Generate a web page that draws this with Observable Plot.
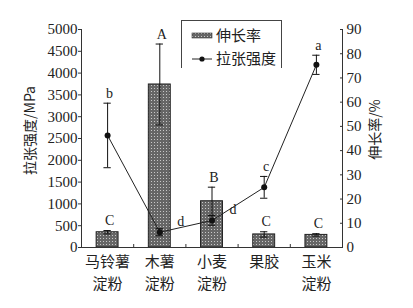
<!DOCTYPE html>
<html><head><meta charset="utf-8">
<script src="https://cdn.jsdelivr.net/npm/d3@7"></script>
<script src="https://cdn.jsdelivr.net/npm/@observablehq/plot@0.6"></script>
<style>
body{margin:0;background:#fff}
#wrap{position:relative;width:413px;height:308px}
.legend{position:absolute;left:181px;top:20px;width:101px;height:48px;border:1px solid #444;border-bottom:none;box-sizing:border-box;font-family:"Noto Sans CJK SC",sans-serif;font-size:15px;color:#222;background:transparent}
.legend .t{position:absolute;left:34px;line-height:18px;white-space:nowrap}
.legend svg{position:absolute;left:9px}
</style></head>
<body><div id="wrap"></div>
<script>
// ---- data ----
const categories = ["马铃薯\n淀粉", "木薯\n淀粉", "小麦\n淀粉", "果胶", "玉米\n淀粉"];
const elongation = [6.3, 67.3, 19.1, 5.4, 5.2];          // 伸长率 / %
const elongationErr = [0.7, 16.7, 5.8, 1.1, 0.5];
const elongationLetters = ["C", "A", "B", "C", "C"];
const strength = [2570, 350, 620, 1380, 4190];          // 拉张强度 / MPa
const strengthErr = [740, 80, 110, 250, 220];
const strengthLetters = ["b", "d", "d", "c", "a"];
const leftTicks = d3.range(0, 5001, 500);
const rightTicks = d3.range(0, 91, 10);
const leftMax = 5000, rightMax = 90;
const K = leftMax / rightMax;

const rows = categories.map((c, i) => {
  const bar = elongation[i] * K, be = elongationErr[i] * K;
  const s = strength[i], se = strengthErr[i];
  return {i, bar, barLo: bar - be, barHi: bar + be, bl: elongationLetters[i],
    s, sLo: s - se, sHi: s + se, sl: strengthLetters[i], right: (s + se) < (bar + be)};
});

const serif = "'Liberation Serif','Times New Roman',serif";
const cjk = "'Noto Sans CJK SC',sans-serif";
const capW = 0.07, barHalf = 0.21;

const chart = Plot.plot({
  width: 413, height: 308,
  marginLeft: 81, marginRight: 71, marginTop: 29, marginBottom: 61,
  style: {fontFamily: serif, fontSize: "15px", color: "#222", background: "white", overflow: "visible"},
  x: {type: "linear", domain: [-0.5, categories.length - 0.5], axis: null},
  y: {domain: [0, leftMax], axis: null},
  marks: [
    Plot.rectY(rows, {x1: d => d.i - barHalf, x2: d => d.i + barHalf, y: "bar", fill: "url(#dots)", stroke: "#222", strokeWidth: 1}),
    Plot.ruleX(rows, {x: "i", y1: "barLo", y2: "barHi", stroke: "#111"}),
    Plot.ruleY(rows, {x1: d => d.i - capW, x2: d => d.i + capW, y: "barHi", stroke: "#111"}),
    Plot.ruleY(rows, {x1: d => d.i - capW, x2: d => d.i + capW, y: "barLo", stroke: "#111"}),
    Plot.line(rows, {x: "i", y: "s", stroke: "#222", strokeWidth: 1}),
    Plot.ruleX(rows, {x: "i", y1: "sLo", y2: "sHi", stroke: "#111"}),
    Plot.ruleY(rows, {x1: d => d.i - capW, x2: d => d.i + capW, y: "sHi", stroke: "#111"}),
    Plot.ruleY(rows, {x1: d => d.i - capW, x2: d => d.i + capW, y: "sLo", stroke: "#111"}),
    Plot.dot(rows, {x: "i", y: "s", r: 3, fill: "#111"}),
    Plot.text(rows, {x: "i", y: "barHi", text: "bl", dy: -10, dx: 2, fontSize: 14, fill: "#222"}),
    Plot.text(rows.filter(d => !d.right), {x: "i", y: "sHi", text: "sl", dy: -10, dx: 2, fontSize: 14, fill: "#222"}),
    Plot.text(rows.filter(d => d.right), {x: "i", y: "s", text: "sl", dx: 21, dy: -11, fontSize: 14, fill: "#222"}),
    // axis lines
    Plot.ruleY([0], {stroke: "#333"}),
    Plot.ruleX([-0.5, categories.length - 0.5], {y1: 0, y2: leftMax, stroke: "#333"}),
    Plot.axisY({anchor: "left", ticks: leftTicks, tickFormat: d3.format("d"), tickSize: 3, tickPadding: 1, label: null, stroke: "#333"}),
    Plot.axisY({anchor: "right", ticks: rightTicks.map(v => v * K), tickFormat: v => String(Math.round(v / K)), tickSize: -3, tickPadding: 7, label: null, stroke: "#333"}),
    Plot.axisX({ticks: d3.range(categories.length - 1).map(i => i + 0.5), tickSize: -3, tickFormat: () => "", label: null, stroke: "#333"}),
    Plot.axisX({ticks: d3.range(categories.length), tickSize: 0, tickPadding: 4, tickFormat: i => categories[i], fontFamily: cjk, fontSize: 15, lineHeight: 1.45, label: null}),
    Plot.text(["拉张强度/MPa"], {frameAnchor: "left", textAnchor: "middle", rotate: -90, dx: -51, dy: -8, fontFamily: cjk, fontSize: 14, fill: "#222"}),
    Plot.text(["伸长率/%"], {frameAnchor: "right", textAnchor: "middle", rotate: -90, dx: 33, dy: -9, fontFamily: cjk, fontSize: 14, fill: "#222"})
  ]
});

function addPattern(svgNode) {
  const defs = d3.select(svgNode).insert("defs", ":first-child");
  const p = defs.append("pattern").attr("id", "dots").attr("width", 3).attr("height", 3).attr("patternUnits", "userSpaceOnUse");
  p.append("rect").attr("width", 3).attr("height", 3).attr("fill", "#666");
  p.append("rect").attr("x", 1).attr("y", 1).attr("width", 1).attr("height", 1).attr("fill", "#c8c8c8");
}
addPattern(chart);
const wrap = document.getElementById("wrap");
wrap.appendChild(chart);

// legend
const lg = document.createElement("div");
lg.className = "legend";
lg.innerHTML = `
  <svg width="22" height="8" style="top:11px"><rect x="1" y="1" width="20" height="5" fill="url(#dots)" stroke="#333" stroke-width="0.6"/></svg>
  <div class="t" style="top:5px">伸长率</div>
  <svg width="22" height="8" style="top:34px"><line x1="1" x2="21" y1="4" y2="4" stroke="#222"/><circle cx="11" cy="4" r="2.6" fill="#111"/></svg>
  <div class="t" style="top:28px">拉张强度</div>`;
wrap.appendChild(lg);
</script>
</body></html>
